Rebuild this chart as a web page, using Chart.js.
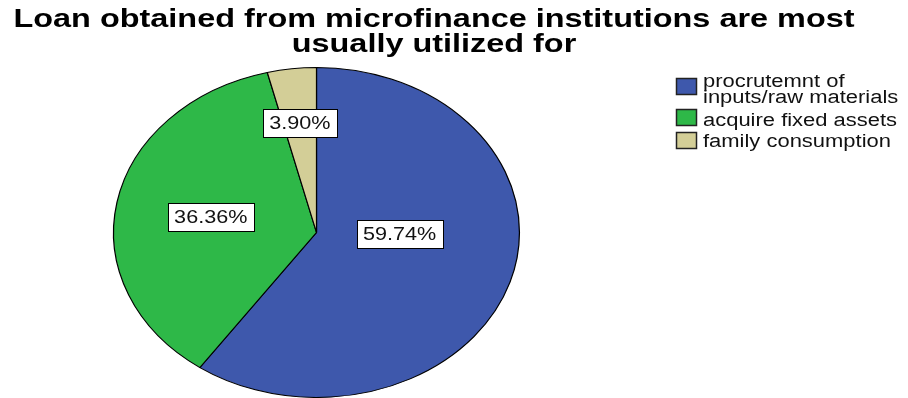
<!DOCTYPE html>
<html>
<head>
<meta charset="utf-8">
<script src="https://cdn.jsdelivr.net/npm/chart.js@4"></script>
<style>
  body { margin: 0; background: #fff; }
  #wrap { width: 908px; height: 398px; }
</style>
</head>
<body>
<div id="wrap"><canvas id="myChart" width="908" height="398"></canvas></div>
<script>
// datos del grafico
const titleLines = ['Loan obtained from microfinance institutions are most', 'usually utilized for'];
const categories = [['procrutemnt of', 'inputs/raw materials'], 'acquire fixed assets', 'family consumption'];
const percents = [59.74, 36.36, 3.90];
const sliceColors = ['#3e58ac', '#2eb848', '#d3ce97'];

// estiramiento horizontal del pastel (queda eliptico como en SPSS)
const stretchX = 1.23;
const pieCenterX = 316.5;

// el pastel se dibuja estirado alrededor de su centro
const ellipsePlugin = {
    id: 'ellipse',
    beforeDatasetsDraw(chart) {
        const arc = chart.getDatasetMeta(0).data[0];
        const ctx = chart.ctx;
        ctx.save();
        ctx.translate(pieCenterX, 0);
        ctx.scale(stretchX, 1);
        ctx.translate(-arc.x, 0);
    },
    afterDatasetsDraw(chart) {
        chart.ctx.restore();
    }
};

// etiquetas con porcentaje en cajas blancas
const labelPlugin = {
    id: 'sliceLabels',
    afterDatasetsDraw(chart, args, opts) {
        const ctx = chart.ctx;
        const meta = chart.getDatasetMeta(0);
        meta.data.forEach((arc, i) => {
            const place = opts.place[i];
            const mid = (arc.startAngle + arc.endAngle) / 2 + place.a * Math.PI / 180;
            const r = arc.outerRadius * place.r;
            const x = pieCenterX + stretchX * r * Math.cos(mid);
            const y = arc.y + r * Math.sin(mid);
            const text = percents[i].toFixed(2) + '%';
            ctx.save();
            ctx.font = '18px "Liberation Sans", Arial, sans-serif';
            const w = ctx.measureText(text).width * 1.2 + 13;
            const h = 28;
            ctx.fillStyle = '#fff';
            ctx.strokeStyle = '#000';
            ctx.lineWidth = 1;
            ctx.fillRect(Math.round(x - w / 2), Math.round(y - h / 2), Math.round(w), h);
            ctx.strokeRect(Math.round(x - w / 2) + 0.5, Math.round(y - h / 2) + 0.5, Math.round(w), h);
            ctx.translate(x, y + 1);
            ctx.scale(1.2, 1);
            ctx.fillStyle = '#111';
            ctx.textAlign = 'center';
            ctx.textBaseline = 'middle';
            ctx.fillText(text, 0, 0);
            ctx.restore();
        });
    }
};

// titulo en dos lineas
const titlePlugin = {
    id: 'spssTitle',
    afterDraw(chart) {
        const ctx = chart.ctx;
        ctx.save();
        ctx.font = 'bold 26px "Liberation Sans", Arial, sans-serif';
        const sx = 841 / ctx.measureText(titleLines[0]).width;
        ctx.fillStyle = '#000';
        ctx.textAlign = 'center';
        ctx.textBaseline = 'alphabetic';
        const baselines = [27, 52];
        titleLines.forEach((line, i) => {
            ctx.save();
            ctx.translate(434, baselines[i]);
            ctx.scale(sx, 1);
            ctx.fillText(line, 0, 0);
            ctx.restore();
        });
        ctx.restore();
    }
};

// leyenda a la derecha
const legendPlugin = {
    id: 'spssLegend',
    afterDraw(chart) {
        const ctx = chart.ctx;
        const boxTops = [78, 109, 132];
        const baselines = [[87, 103], [126], [147]];
        ctx.save();
        ctx.font = '18px "Liberation Sans", Arial, sans-serif';
        ctx.textBaseline = 'alphabetic';
        chart.data.labels.forEach((label, i) => {
            ctx.fillStyle = sliceColors[i];
            ctx.fillRect(676, boxTops[i], 21, 17);
            ctx.strokeStyle = '#222';
            ctx.lineWidth = 1.5;
            ctx.strokeRect(676.5, boxTops[i] + 0.5, 20, 16);
            const lines = Array.isArray(label) ? label : [label];
            ctx.fillStyle = '#111';
            lines.forEach((t, j) => {
                ctx.save();
                ctx.translate(703, baselines[i][j]);
                ctx.scale(1.22, 1);
                ctx.fillText(t, 0, 0);
                ctx.restore();
            });
        });
        ctx.restore();
    }
};

const ctx = document.getElementById('myChart').getContext('2d');
const myChart = new Chart(ctx, {
    type: 'pie',
    data: {
        labels: categories,
        datasets: [{
            data: percents,
            backgroundColor: sliceColors,
            borderColor: '#000',
            borderWidth: 1,
            clip: false
        }]
    },
    options: {
        responsive: false,
        animation: false,
        layout: {
            padding: { top: 67, bottom: 0, left: 0, right: 275 }
        },
        plugins: {
            legend: { display: false },
            title: { display: false },
            tooltip: { enabled: false },
            sliceLabels: {
                place: [{ r: 0.41, a: -16 }, { r: 0.53, a: 0 }, { r: 0.67, a: 0 }]
            }
        }
    },
    plugins: [ellipsePlugin, labelPlugin, titlePlugin, legendPlugin]
});
</script>
</body>
</html>
